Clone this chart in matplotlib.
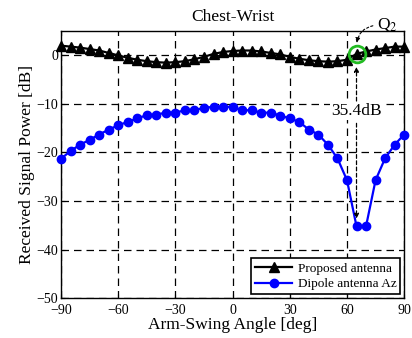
import numpy as np
import matplotlib
matplotlib.use("Agg")
import matplotlib.pyplot as plt

plt.rcParams['font.family'] = ['Liberation Serif', 'DejaVu Serif']
plt.rcParams['font.size'] = 10
plt.rcParams['mathtext.fontset'] = 'stix'

angles = np.arange(-90, 91, 5)
proposed = [2.0, 1.8, 1.6, 1.3, 1.0, 0.5, 0.0, -0.5, -0.9, -1.2, -1.4, -1.5, -1.4,
            -1.2, -0.8, -0.3, 0.3, 0.7, 0.9, 1.0, 1.0, 0.8, 0.5, 0.2, -0.3, -0.7,
            -1.0, -1.2, -1.3, -1.2, -0.9, 0.3, 0.8, 1.2, 1.5, 1.8, 1.8]
dipole = [-21.3, -19.7, -18.4, -17.4, -16.3, -15.3, -14.4, -13.7, -13.0, -12.3, -12.2,
          -11.8, -11.8, -11.3, -11.3, -10.8, -10.6, -10.6, -10.6, -11.3, -11.3, -11.8,
          -11.8, -12.4, -13.0, -13.7, -15.3, -16.3, -18.4, -21.2, -25.7, -35.2, -35.2,
          -25.7, -21.2, -18.4, -16.3]
q2_angle = 65
diff_label = "35.4dB"

fig = plt.figure(figsize=(4.12, 3.38), dpi=100)
ax = fig.add_axes([0.148, 0.118, 0.833, 0.79])

ax.plot(angles, proposed, color='k', marker='^', markersize=7, linewidth=1.6,
        label='Proposed antenna', clip_on=False, zorder=4)
ax.plot(angles, dipole, color='#0000ff', marker='o', markersize=6, linewidth=1.6,
        label='Dipole antenna Az', clip_on=False, zorder=4)

ax.set_xlim(-90, 90)
ax.set_ylim(-50, 5)
ax.set_xticks(np.arange(-90, 91, 30))
ax.set_yticks(np.arange(-50, 1, 10))
ax.tick_params(direction='in', length=3, width=0.8, labelsize=10)
ax.tick_params(axis='x', pad=4)
ax.tick_params(axis='y', pad=2)
ax.grid(True, color='k', linestyle=(0, (6, 4)), linewidth=0.9)
for s in ax.spines.values():
    s.set_linewidth(1.0)

ax.set_title("Chest-Wrist", fontsize=12.5, pad=7)
ax.set_xlabel("Arm-Swing Angle [deg]", fontsize=12.5, labelpad=0)
ax.set_ylabel("Received Signal Power [dB]", fontsize=12.5, labelpad=1)

# Q2 marker
i = list(angles).index(q2_angle)
ax.plot([q2_angle], [proposed[i]], marker='o', markersize=12, markerfacecolor='none',
        markeredgecolor='#22bb22', markeredgewidth=2, zorder=5)
ax.annotate("", xy=(q2_angle, proposed[i] + 1.7), xytext=(q2_angle + 10, 6.2),
            arrowprops=dict(arrowstyle='-|>', linestyle=(0, (2, 2)), color='k', lw=0.8,
                            connectionstyle='arc3,rad=0.4', mutation_scale=7),
            annotation_clip=False)
ax.text(q2_angle + 10.5, 6.3, "Q$_2$", fontsize=12.5, ha='left', va='center', clip_on=False)

ax.text(q2_angle, -11.4, diff_label, fontsize=12.5, ha='center', va='center', zorder=3,
        bbox=dict(facecolor='white', edgecolor='none', pad=1.0))
ax.annotate("", xy=(q2_angle, proposed[i] - 2.1), xytext=(q2_angle, -9.4),
            arrowprops=dict(arrowstyle='-|>', linestyle=(0, (3, 2)), color='k', lw=0.9,
                            mutation_scale=7, shrinkA=0), zorder=6)
ax.annotate("", xy=(q2_angle, dipole[i] + 1.0), xytext=(q2_angle, -14.0),
            arrowprops=dict(arrowstyle='-|>', linestyle=(0, (3, 2)), color='k', lw=0.9,
                            mutation_scale=7, shrinkA=0), zorder=6)

leg = ax.legend(loc='lower right', fontsize=9.5, fancybox=False, framealpha=1,
                edgecolor='k', borderaxespad=0.3, handlelength=2.8, borderpad=0.3,
                labelspacing=0.25, handletextpad=0.4)
leg.get_frame().set_linewidth(1.2)

fig.savefig("out.png", dpi=100)
